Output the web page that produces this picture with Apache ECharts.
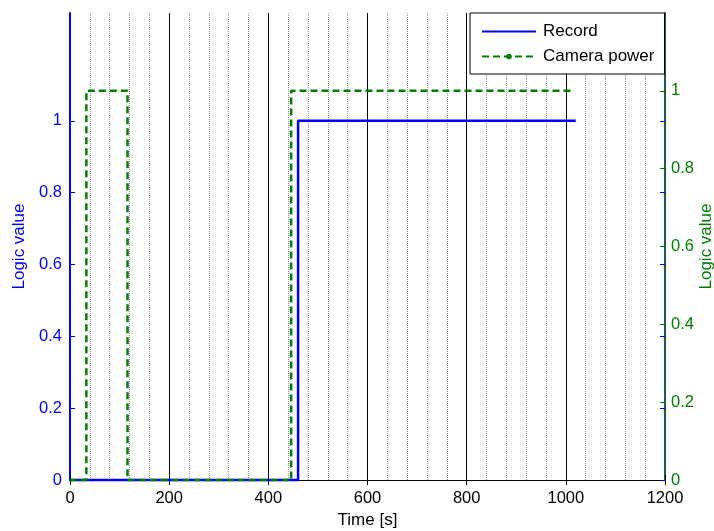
<!DOCTYPE html>
<html><head><meta charset="utf-8">
<script src="https://cdn.jsdelivr.net/npm/echarts@6/dist/echarts.min.js"></script>
<style>html,body{margin:0;padding:0;background:#fff}#c{width:714px;height:531px}</style>
</head><body><div id="c"></div>
<script>
// Data
const recordTime = [0, 460, 460, 1020];
const recordValue = [0, 0, 1, 1];
const cameraTime = [0, 33, 33, 116, 116, 446, 446, 1017];
const cameraValue = [0, 0, 1, 1, 0, 0, 1, 1];
const xTicks = [0, 200, 400, 600, 800, 1000, 1200];
const yTicks = [0, 0.2, 0.4, 0.6, 0.8, 1];

const FONT = 'Liberation Sans, Arial, sans-serif';
const BLUE = '#0000ff';
const GREEN = '#008000';

const chart = echarts.init(document.getElementById('c'), null, {renderer: 'canvas'});
const xBase = {
  type: 'value', min: 0, max: 1200, interval: 200,
};
chart.setOption({
  animation: false,
  backgroundColor: '#fff',
  grid: {left: 70, right: 49, top: 13, bottom: 51, containLabel: false, outerBoundsMode: 'none'},
  legend: {
    left: 470, top: 13, orient: 'vertical', align: 'left',
    backgroundColor: '#fff', borderColor: '#000', borderWidth: 1, borderRadius: 0,
    padding: [10, 10, 9, 11], itemGap: 8, itemWidth: 54, itemHeight: 7,
    textStyle: {fontFamily: FONT, fontSize: 17, color: '#000', padding: [0,0,0,2]},
    data: [{name: 'Record', itemStyle: {opacity: 0}}, {name: 'Camera power'}]
  },
  xAxis: [
    Object.assign({}, xBase, {
      position: 'bottom',
      name: 'Time [s]', nameLocation: 'middle', nameGap: 29,
      nameTextStyle: {fontFamily: FONT, fontSize: 17, color: '#000'},
      axisLine: {lineStyle: {color: '#000', width: 1}},
      axisTick: {inside: true, length: 5, lineStyle: {color: '#000'}},
      axisLabel: {fontFamily: FONT, fontSize: 16.5, color: '#000', margin: 10, formatter: v => String(v)},
      splitLine: {show: true, lineStyle: {color: '#000', width: 1, type: 'solid'}},
      minorTick: {show: false, splitNumber: 5},
      minorSplitLine: {show: true, lineStyle: {color: '#999', width: 1, type: 'dotted'}}
    }),
    Object.assign({}, xBase, {
      position: 'top',
      axisLine: {lineStyle: {color: '#000', width: 1}},
      axisTick: {inside: true, length: 5, lineStyle: {color: '#000'}},
      axisLabel: {show: false},
      splitLine: {show: false}
    })
  ],
  yAxis: [
    {
      type: 'value', position: 'left', offset: 0, min: 0, max: 1.3,
      name: 'Logic value', nameLocation: 'middle', nameGap: 41,
      nameTextStyle: {fontFamily: FONT, fontSize: 17, color: BLUE},
      axisLine: {show: true, onZero: false, lineStyle: {color: BLUE, width: 2}},
      axisTick: {show: true, inside: true, length: 5, customValues: yTicks, lineStyle: {color: BLUE}},
      axisLabel: {fontFamily: FONT, fontSize: 16.5, color: BLUE, margin: 8, customValues: yTicks,
        formatter: v => String(Math.round(v * 10) / 10)},
      splitLine: {show: false}
    },
    {
      type: 'value', position: 'right', offset: 0, min: 0, max: 1.2,
      name: 'Logic value', nameLocation: 'middle', nameGap: 33, nameRotate: 90, nameMoveOverlap: false,
      nameTextStyle: {fontFamily: FONT, fontSize: 17, color: GREEN},
      axisLine: {show: true, onZero: false, lineStyle: {color: '#1d5b46', width: 2}},
      axisTick: {show: true, inside: true, length: 5, customValues: yTicks, lineStyle: {color: GREEN}},
      axisLabel: {fontFamily: FONT, fontSize: 16.5, color: GREEN, margin: 6, customValues: yTicks,
        formatter: v => String(Math.round(v * 10) / 10)},
      splitLine: {show: false}
    },
    {
      type: 'value', position: 'right', offset: 0, min: 0, max: 1.3,
      axisLine: {show: false, onZero: false},
      axisTick: {show: true, inside: true, length: 5, customValues: yTicks, lineStyle: {color: BLUE}},
      axisLabel: {show: false},
      splitLine: {show: false}
    }
  ],
  series: [
    {
      name: 'Record', type: 'line', xAxisIndex: 0, yAxisIndex: 0,
      data: recordTime.map((t, i) => [t, recordValue[i]]),
      symbol: 'none', showSymbol: false, clip: false, z: 5,
      lineStyle: {color: BLUE, width: 2.5, type: 'solid'},
      itemStyle: {color: BLUE}
    },
    {
      name: 'Camera power', type: 'line', xAxisIndex: 0, yAxisIndex: 1,
      data: cameraTime.map((t, i) => [t, cameraValue[i]]),
      symbol: 'circle', symbolSize: 4, showSymbol: false, clip: false, z: 6,
      lineStyle: {color: GREEN, width: 2.5, type: [7, 4]},
      itemStyle: {color: GREEN}
    }
  ]
});
</script></body></html>
